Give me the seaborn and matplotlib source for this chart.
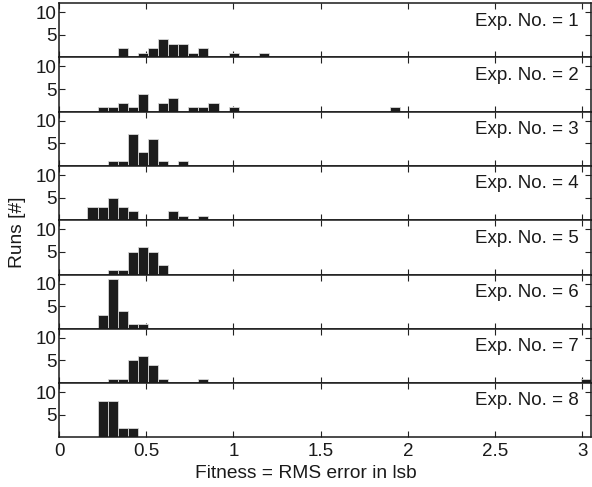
import numpy as np
import pandas as pd
import matplotlib
matplotlib.use("Agg")
import matplotlib.pyplot as plt
import seaborn as sns

# bar centers (fitness) and run counts
fitness_1 = [0.366, 0.481, 0.539, 0.597, 0.654, 0.712, 0.770, 0.828, 1.001, 1.175]
runs_1 = [2, 1, 2, 4, 3, 3, 1, 2, 1, 1]
fitness_2 = [0.250, 0.308, 0.366, 0.423, 0.481, 0.597, 0.654, 0.770, 0.828, 0.886, 1.001, 1.926]
runs_2 = [1, 1, 2, 1, 4, 2, 3, 1, 1, 2, 1, 1]
fitness_3 = [0.308, 0.366, 0.423, 0.481, 0.539, 0.597, 0.712]
runs_3 = [1, 1, 7, 3, 6, 1, 1]
fitness_4 = [0.192, 0.250, 0.308, 0.366, 0.423, 0.654, 0.712, 0.828]
runs_4 = [3, 3, 5, 3, 2, 2, 1, 1]
fitness_5 = [0.308, 0.366, 0.423, 0.481, 0.539, 0.597]
runs_5 = [1, 1, 5, 6, 5, 2]
fitness_6 = [0.250, 0.308, 0.366, 0.423, 0.481]
runs_6 = [3, 11, 4, 1, 1]
fitness_7 = [0.308, 0.366, 0.423, 0.481, 0.539, 0.597, 0.828, 3.024]
runs_7 = [1, 1, 5, 6, 4, 1, 1, 1]
fitness_8 = [0.250, 0.308, 0.366, 0.423]
runs_8 = [8, 8, 2, 2]

experiments = [
    (fitness_1, runs_1), (fitness_2, runs_2), (fitness_3, runs_3), (fitness_4, runs_4),
    (fitness_5, runs_5), (fitness_6, runs_6), (fitness_7, runs_7), (fitness_8, runs_8),
]

x_ticks = [0, 0.5, 1, 1.5, 2, 2.5, 3]
x_tick_labels = ["0", "0.5", "1", "1.5", "2", "2.5", "3"]
y_ticks = [5, 10]

# histogram bins: 50 bins of equal width
bin_w = 0.0578
bin_lo = 0.25 - 1.5 * bin_w
bin_hi = bin_lo + 50 * bin_w

sns.set_style("ticks")
plt.rcParams['font.family'] = ['Liberation Sans', 'DejaVu Sans']

fig, axes = plt.subplots(8, 1, figsize=(5.92, 4.87), dpi=100, sharex=True)
fig.subplots_adjust(left=0.0997, right=0.999, top=0.9935, bottom=0.102, hspace=0)

for i, (ax, (fx, nr)) in enumerate(zip(axes, experiments)):
    df = pd.DataFrame({"fitness": fx, "runs": nr})
    sns.histplot(data=df, x="fitness", weights="runs", binwidth=bin_w,
                 binrange=(bin_lo, bin_hi), ax=ax, color="#1c1c1c",
                 edgecolor="#d8d8d8", linewidth=0.6, alpha=1)
    ax.set_xlim(0, 3.053)
    ax.set_ylim(0, 12)
    ax.set_yticks(y_ticks)
    ax.set_yticklabels([str(t) for t in y_ticks], fontsize=13.5)
    ax.set_xticks(x_ticks)
    ax.set_ylabel("")
    ax.set_xlabel("")
    ax.tick_params(direction="in", top=True, right=True, length=4, width=0.8,
                   pad=2, colors="#222222", labelcolor="#1a1a1a")
    for s in ax.spines.values():
        s.set_linewidth(1.1)
        s.set_color("#1a1a1a")
    ax.text(0.976, 0.67, "Exp. No. = %d" % (i + 1), transform=ax.transAxes,
            ha="right", va="center", fontsize=13.5, color="#1a1a1a")

axes[-1].set_xticklabels(x_tick_labels, fontsize=13.5)
axes[-1].tick_params(axis="x", pad=4)
fig.text(0.517, 0.027, "Fitness = RMS error in lsb", ha="center", va="center",
         fontsize=13.8, color="#1a1a1a")
fig.text(0.03, 0.524, "Runs [#]", ha="center", va="center", rotation=90,
         fontsize=13.8, color="#1a1a1a")

fig.savefig("out.png", dpi=100)
